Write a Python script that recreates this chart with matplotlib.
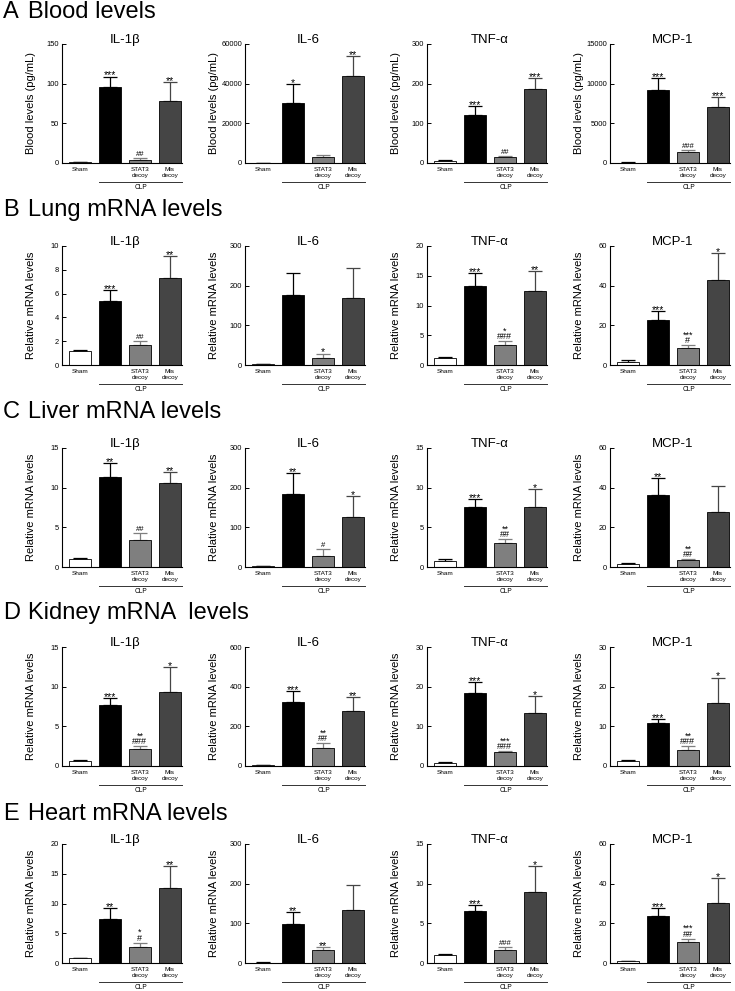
import numpy as np
import matplotlib
matplotlib.use("Agg")
import matplotlib.pyplot as plt

plt.rcParams['font.family'] = ['Liberation Sans', 'DejaVu Sans']

# groups and cytokines
groups = ["Sham", "", "STAT3\ndecoy", "Mis\ndecoy"]
cytokines = ["IL-1β", "IL-6", "TNF-α", "MCP-1"]
bar_colors = ["white", "black", "#7f7f7f", "#454545"]
err_colors = ["black", "black", "#7f7f7f", "#454545"]

row_letters = ["A", "B", "C", "D", "E"]
row_titles = ["Blood levels", "Lung mRNA levels", "Liver mRNA levels",
              "Kidney mRNA  levels", "Heart mRNA levels"]
row_ylabels = ["Blood levels (pg/mL)", "Relative mRNA levels", "Relative mRNA levels",
               "Relative mRNA levels", "Relative mRNA levels"]

# A - blood
blood_mean = [[1, 95.4, 4.2, 77.7], [200, 30000, 3200, 44000],
              [5, 121, 14.3, 186.5], [60, 9240, 1390, 7060]]
blood_err = [[0.5, 13.6, 1.8, 24.3], [50, 10000, 670, 9800],
             [1.7, 22, 3.3, 27], [20, 1430, 210, 1220]]
blood_sig = [["", "***", "##", "**"], ["", "*", "", "**"],
             ["", "***", "##", "***"], ["", "***", "###", "***"]]
blood_ymax = [150, 60000, 300, 15000]
blood_step = [50, 20000, 100, 5000]

# B - lung
lung_mean = [[1.21, 5.37, 1.67, 7.29], [2, 176, 18.6, 169.5],
             [1.19, 13.3, 3.33, 12.4], [1.7, 22.7, 8.5, 43]]
lung_err = [[0.09, 0.96, 0.36, 1.89], [0.5, 55, 10.2, 76],
            [0.17, 2.1, 0.62, 3.4], [0.7, 4.4, 1.5, 13.4]]
lung_sig = [["", "***", "##", "**"], ["", "", "*", ""],
            ["", "***", "*\n###", "**"], ["", "***", "***\n#", "*"]]
lung_ymax = [10, 300, 20, 60]
lung_step = [2, 100, 5, 20]

# C - liver
liver_mean = [[0.97, 11.3, 3.36, 10.63], [2, 184.9, 28.6, 126.9],
              [0.8, 7.52, 3.02, 7.56], [1.5, 36.1, 3.36, 27.9]]
liver_err = [[0.12, 1.77, 0.88, 1.3], [0.5, 52.9, 15.9, 52.9],
             [0.17, 1.05, 0.51, 2.31], [0.5, 8.6, 0.67, 12.8]]
liver_sig = [["", "**", "##", "**"], ["", "**", "#", "*"],
             ["", "***", "**\n##", "*"], ["", "**", "**\n##", ""]]
liver_ymax = [15, 300, 15, 60]
liver_step = [5, 100, 5, 20]

# D - kidney
kidney_mean = [[0.63, 7.67, 2.09, 9.3], [3, 321.8, 92, 278],
               [0.84, 18.3, 3.44, 13.4], [1.26, 10.9, 3.94, 15.9]]
kidney_err = [[0.08, 0.92, 0.42, 3.18], [1, 58, 22, 72],
              [0.16, 2.8, 0.26, 4.2], [0.16, 1.0, 1.09, 6.4]]
kidney_sig = [["", "***", "**\n###", "*"], ["", "***", "**\n##", "**"],
              ["", "***", "***\n###", "*"], ["", "***", "**\n###", "*"]]
kidney_ymax = [15, 600, 30, 30]
kidney_step = [5, 200, 10, 10]

# E - heart
heart_mean = [[0.84, 7.47, 2.7, 12.64], [1, 97.7, 32.9, 134.8],
              [1.05, 6.53, 1.6, 8.98], [1.0, 23.6, 10.6, 30.4]]
heart_err = [[0.06, 1.69, 0.73, 3.71], [0.3, 31.2, 7.5, 61.5],
             [0.09, 0.76, 0.42, 3.28], [0.2, 3.9, 1.7, 12.3]]
heart_sig = [["", "**", "*\n#", "**"], ["", "**", "**", ""],
             ["", "***", "###", "*"], ["", "***", "***\n##", "*"]]
heart_ymax = [20, 300, 15, 60]
heart_step = [5, 100, 5, 20]

all_mean = [blood_mean, lung_mean, liver_mean, kidney_mean, heart_mean]
all_err = [blood_err, lung_err, liver_err, kidney_err, heart_err]
all_sig = [blood_sig, lung_sig, liver_sig, kidney_sig, heart_sig]
all_ymax = [blood_ymax, lung_ymax, liver_ymax, kidney_ymax, heart_ymax]
all_step = [blood_step, lung_step, liver_step, kidney_step, heart_step]

W, H = 735, 991
fig = plt.figure(figsize=(W / 100, H / 100), dpi=100)

col_left = [62, 245, 427, 610]
row_top = [44, 246, 448, 647, 844]
row_base = [18, 216, 418, 619, 820]
ax_w, ax_h = 120, 119
PT = 72 / 100  # points per pixel

x = np.arange(4)


def sig_text(ax, label, xpos, top):
    if "\n" in label:
        # stacked: asterisks over hashes, one text object
        ax.annotate(label, (xpos, top), xytext=(0, 2 * PT), textcoords='offset points',
                    ha='center', va='baseline', fontsize=6.5, linespacing=0.5,
                    annotation_clip=False)
        return
    # asterisks drawn a bit bigger, they sit high in the glyph box
    if label.startswith("*"):
        fs, off = 7.5, -2.0
    else:
        fs, off = 5.5, 2.0
    ax.annotate(label, (xpos, top), xytext=(0, off * PT), textcoords='offset points',
                ha='center', va='baseline', fontsize=fs, annotation_clip=False)


for r in range(5):
    fig.text(3 / W, 1 - row_base[r] / H, row_letters[r], fontsize=17, va='baseline', ha='left')
    fig.text(28 / W, 1 - row_base[r] / H, row_titles[r], fontsize=17, va='baseline', ha='left')
    for c in range(4):
        ax = fig.add_axes([col_left[c] / W, 1 - (row_top[r] + ax_h) / H, ax_w / W, ax_h / H])
        means = all_mean[r][c]
        errs = all_err[r][c]
        ax.bar(x, means, width=0.72, color=bar_colors, edgecolor='black', linewidth=0.6, zorder=2)
        for i in range(4):
            ax.errorbar(x[i], means[i], yerr=[[0], [errs[i]]], fmt='none', ecolor=err_colors[i],
                        elinewidth=0.9, capsize=5, capthick=0.9, zorder=1)
            if all_sig[r][c][i]:
                sig_text(ax, all_sig[r][c][i], x[i], means[i] + errs[i])

        ymax = all_ymax[r][c]
        ax.set_ylim(0, ymax)
        ax.set_yticks(np.arange(0, ymax + 1e-9, all_step[r][c]))
        ax.set_xlim(-0.61, 3.41)
        ax.set_xticks(x, groups, fontsize=4.6, linespacing=1.1)
        ax.tick_params(axis='x', length=0, pad=3)
        ax.tick_params(axis='y', direction='in', length=3, width=0.7, pad=2, labelsize=5.4)
        for s in ['top', 'right']:
            ax.spines[s].set_visible(False)
        for s in ['left', 'bottom']:
            ax.spines[s].set_linewidth(0.8)

        ax.text(1.5, 1 + 1 / ax_h, cytokines[c], transform=ax.get_xaxis_transform(),
                ha='center', va='baseline', fontsize=9.5)
        ax.text(-0.26, 0.5, row_ylabels[r], transform=ax.transAxes, rotation=90,
                ha='center', va='center', fontsize=8)

        # CLP bracket line under the three CLP groups
        tr = ax.get_xaxis_transform()
        ax.plot([0.64, 3.41], [-19 / ax_h, -19 / ax_h], transform=tr, color='#333333',
                lw=0.7, clip_on=False)
        ax.text((0.64 + 3.41) / 2, -21 / ax_h, "CLP", transform=tr, ha='center', va='top',
                fontsize=4.8)

fig.savefig("out.png", dpi=100)
